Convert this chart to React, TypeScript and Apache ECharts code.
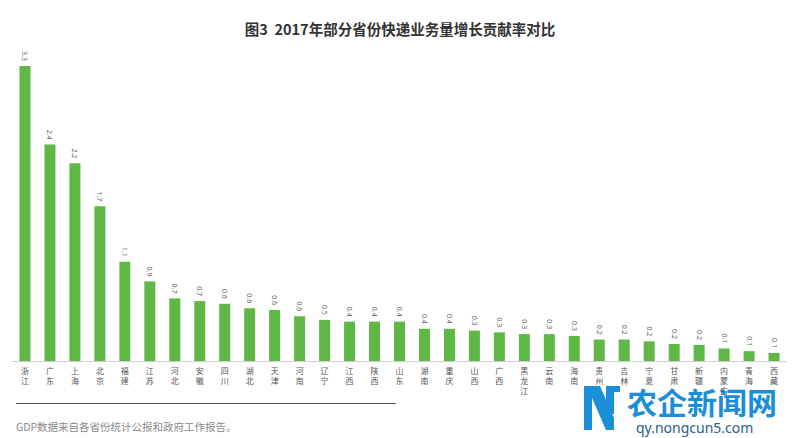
import React, { useEffect, useRef } from "react";
import * as echarts from "echarts";

const provinces = [
  "浙江", "广东", "上海", "北京", "福建", "江苏", "河北", "安徽", "四川", "湖北",
  "天津", "河南", "辽宁", "江西", "陕西", "山东", "湖南", "重庆", "山西", "广西",
  "黑龙江", "云南", "海南", "贵州", "吉林", "宁夏", "甘肃", "新疆", "内蒙古", "青海", "西藏",
];

const contribution = [
  3.3, 2.42, 2.21, 1.73, 1.11, 0.89, 0.7, 0.67, 0.64, 0.59,
  0.57, 0.5, 0.46, 0.44, 0.44, 0.44, 0.36, 0.36, 0.34, 0.32,
  0.3, 0.3, 0.28, 0.24, 0.24, 0.22, 0.19, 0.18, 0.14, 0.11, 0.09,
];

const valueLabels = [
  "3.3", "2.4", "2.2", "1.7", "1.1", "0.9", "0.7", "0.7", "0.6", "0.6",
  "0.6", "0.6", "0.5", "0.4", "0.4", "0.4", "0.4", "0.4", "0.3", "0.3",
  "0.3", "0.3", "0.3", "0.2", "0.2", "0.2", "0.2", "0.2", "0.1", "0.1", "0.1",
];

const titleText = "图3  2017年部分省份快递业务量增长贡献率对比";
const noteText = "GDP数据来自各省份统计公报和政府工作报告。";

export default function App() {
  const ref = useRef<HTMLDivElement>(null);

  useEffect(() => {
    if (!ref.current) return;
    const chart = echarts.init(ref.current, null, { renderer: "svg" });
    chart.setOption({
      animation: false,
      backgroundColor: "#ffffff",
      grid: { left: 12.5, right: 13.5, top: 48, bottom: 77, containLabel: false },
      xAxis: {
        type: "category",
        data: provinces,
        axisLine: { show: true, lineStyle: { color: "#d0d0d0", width: 1 } },
        axisTick: { show: false },
        axisLabel: {
          interval: 0,
          margin: 4,
          fontSize: 8,
          lineHeight: 10,
          color: "#555555",
          fontFamily: "Noto Sans CJK SC",
          formatter: (v: string) => v.split("").join("\n"),
        },
      },
      yAxis: {
        type: "value",
        min: 0,
        max: 3.5,
        show: false,
        splitLine: { show: false },
      },
      series: [
        {
          type: "bar",
          data: contribution,
          barWidth: 11,
          itemStyle: { color: "#5fb845" },
          label: {
            show: true,
            position: "top",
            rotate: -90,
            align: "right",
            verticalAlign: "middle",
            distance: 5,
            fontSize: 7,
            color: "#666666",
            fontFamily: "Noto Sans",
            formatter: (p: any) => valueLabels[p.dataIndex],
          },
        },
      ],
      graphic: [
        {
          type: "text",
          left: "center",
          top: 21,
          style: {
            text: titleText,
            fontSize: 14.5,
            fontWeight: "bold",
            fill: "#333333",
            fontFamily: "Noto Sans CJK SC",
          },
        },
        {
          type: "line",
          shape: { x1: 16, y1: 403.5, x2: 396, y2: 403.5 },
          style: { stroke: "#555555", lineWidth: 1 },
        },
        {
          type: "text",
          x: 16,
          y: 421,
          style: {
            text: noteText,
            fontSize: 10.5,
            fill: "#8a8a8a",
            fontFamily: "Noto Sans CJK SC",
          },
        },
        {
          type: "group",
          children: [
            { type: "rect", shape: { x: 584, y: 386, width: 8, height: 44 }, style: { fill: "#1a8fd8" } },
            { type: "polygon", shape: { points: [[592, 386], [600, 386], [614, 418], [614, 430], [606, 430], [592, 398]] }, style: { fill: "#1a8fd8" } },
            { type: "rect", shape: { x: 606, y: 386, width: 8, height: 28 }, style: { fill: "#1a8fd8" } },
            { type: "rect", shape: { x: 614, y: 386, width: 6, height: 6 }, style: { fill: "#1a8fd8" } },
          ],
        },
        {
          type: "text",
          x: 627,
          y: 386,
          style: {
            text: "农企新闻网",
            fontSize: 30,
            fontWeight: "bold",
            fill: "#1a8fd8",
            fontFamily: "Noto Sans CJK SC",
          },
        },
        {
          type: "text",
          x: 636,
          y: 420,
          style: {
            text: "qy.nongcun5.com",
            fontSize: 14,
            fill: "#2c5f8a",
            fontFamily: "Noto Sans",
          },
        },
      ],
    });
    return () => chart.dispose();
  }, []);

  return <div ref={ref} style={{ width: 800, height: 438, position: "absolute", left: 0, top: 0 }} />;
}
